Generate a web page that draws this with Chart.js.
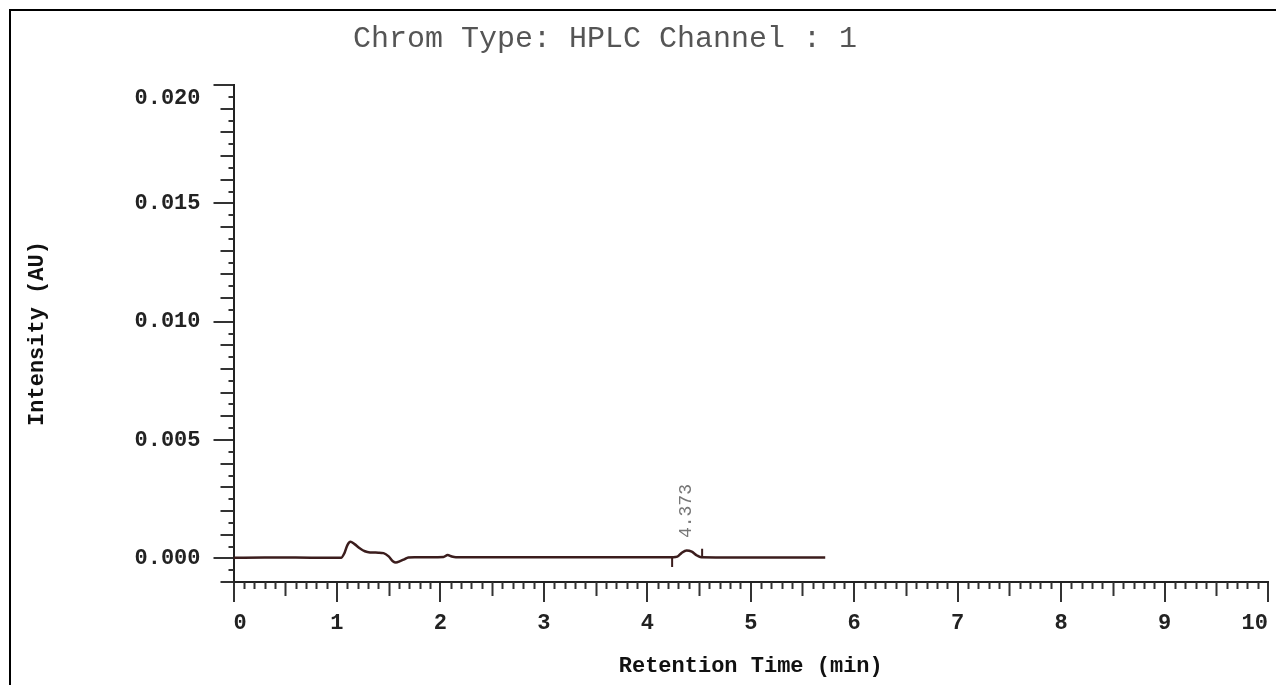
<!DOCTYPE html>
<html>
<head>
<meta charset="utf-8">
<script src="https://cdn.jsdelivr.net/npm/chart.js@4/dist/chart.umd.min.js"></script>
<style>
    html, body { margin: 0; padding: 0; background: #fff; }
    #chartBox { width: 1276px; height: 685px; }
</style>
</head>
<body>
<div id="chartBox"><canvas id="chromChart"></canvas></div>
<script>
// Chromatogram trace (retention time in min, intensity in AU)
const retentionTime = [0.00, 0.30, 0.60, 0.90, 1.04, 1.07, 1.10, 1.13, 1.17, 1.22, 1.27, 1.32, 1.40, 1.45, 1.50, 1.54, 1.57, 1.61, 1.65, 1.69, 1.75, 1.90, 2.03, 2.07, 2.11, 2.15, 2.50, 3.00, 3.50, 4.00, 4.25, 4.29, 4.33, 4.38, 4.43, 4.48, 4.52, 5.00, 5.50, 5.72];
const intensity = [0.00002, 0.00003, 0.00003, 0.00002, 0.00002, 0.00020, 0.00055, 0.00070, 0.00060, 0.00043, 0.00030, 0.00025, 0.00024, 0.00022, 0.00008, -0.00012, -0.00018, -0.00012, -0.00004, 0.00004, 0.00005, 0.00005, 0.00006, 0.00014, 0.00008, 0.00005, 0.00005, 0.00005, 0.00005, 0.00005, 0.00005, 0.00007, 0.00022, 0.00033, 0.00028, 0.00012, 0.00005, 0.00004, 0.00004, 0.00004];

// Integration markers of the labelled peak
const peakStartX = [4.24, 4.24];
const peakStartY = [0.00005, -0.00037];
const peakEndX = [4.53, 4.53];
const peakEndY = [0.00005, 0.00040];

// Peak label
const peakLabelTime = 4.373;
const peakLabelTop = 0.00035;
const peakLabelText = '4.373';

// Axes
const xTickValues = [0, 1, 2, 3, 4, 5, 6, 7, 8, 9, 10];
const yTickValues = [0, 0.005, 0.010, 0.015, 0.020];
const yTickLabels = ['0.000', '0.005', '0.010', '0.015', '0.020'];
const titleText = 'Chrom Type: HPLC Channel : 1';

const monoFont = '"Liberation Mono", "DejaVu Sans Mono", monospace';
const traceColor = '#3b1d1d';

// Build {x, y} points from two arrays
function toPoints(xs, ys) {
    return xs.map((v, i) => ({x: v, y: ys[i]}));
}

// Plugin for the frame, the title, the minor ticks and the peak label
const chromDecorations = {
    id: 'chromDecorations',
    beforeDraw(chart) {
        const ctx = chart.ctx;
        ctx.save();
        ctx.strokeStyle = '#000';
        ctx.lineWidth = 2;
        ctx.beginPath();
        ctx.moveTo(10, chart.height);
        ctx.lineTo(10, 10);
        ctx.lineTo(chart.width, 10);
        ctx.stroke();

        ctx.fillStyle = '#555';
        ctx.font = '30px ' + monoFont;
        ctx.textAlign = 'center';
        ctx.textBaseline = 'middle';
        ctx.fillText(titleText, 605, 39);
        ctx.restore();
    },
    afterDraw(chart) {
        const {ctx, chartArea} = chart;
        const x = chart.scales.x;
        const y = chart.scales.y;
        ctx.save();
        ctx.strokeStyle = '#333';
        ctx.lineWidth = 2;
        ctx.beginPath();

        // x minor ticks every 0.1 min, longer at the half minute
        for (let i = 1; i < 100; i++) {
            if (i % 10 === 0) continue;
            const px = Math.round(x.getPixelForValue(i / 10)) + 0.5;
            const len = i % 5 === 0 ? 14 : 7;
            ctx.moveTo(px, chartArea.bottom);
            ctx.lineTo(px, chartArea.bottom + len);
        }

        // y minor ticks every 0.0005 AU, longer every 0.001 AU
        for (let i = -2; i < 40; i++) {
            if (i % 10 === 0) continue;
            const py = Math.round(y.getPixelForValue(i * 0.0005));
            const len = i % 2 === 0 ? 13 : 5;
            ctx.moveTo(chartArea.left, py);
            ctx.lineTo(chartArea.left - len, py);
        }
        ctx.stroke();

        // Rotated retention time label above the peak
        ctx.translate(x.getPixelForValue(peakLabelTime), y.getPixelForValue(peakLabelTop) - 12);
        ctx.rotate(-Math.PI / 2);
        ctx.fillStyle = '#777';
        ctx.font = '18px ' + monoFont;
        ctx.textAlign = 'left';
        ctx.textBaseline = 'middle';
        ctx.fillText(peakLabelText, 0, 0);
        ctx.restore();
    }
};

const markerStyle = {
    borderColor: traceColor,
    borderWidth: 2,
    pointRadius: 0,
    tension: 0
};

new Chart(document.getElementById('chromChart'), {
    type: 'line',
    data: {
        datasets: [
            {
                data: toPoints(retentionTime, intensity),
                borderColor: traceColor,
                borderWidth: 2.5,
                pointRadius: 0,
                cubicInterpolationMode: 'monotone'
            },
            Object.assign({data: toPoints(peakStartX, peakStartY)}, markerStyle),
            Object.assign({data: toPoints(peakEndX, peakEndY)}, markerStyle)
        ]
    },
    options: {
        responsive: true,
        maintainAspectRatio: false,
        animation: false,
        layout: {
            padding: {top: 85, left: 20, right: 8, bottom: 1}
        },
        plugins: {
            legend: {display: false},
            title: {display: false},
            tooltip: {enabled: false}
        },
        scales: {
            x: {
                type: 'linear',
                min: 0,
                max: 10,
                afterBuildTicks: scale => {
                    scale.ticks = xTickValues.map(v => ({value: v}));
                },
                afterFit: scale => {
                    scale.height = 102;
                    scale.paddingLeft = 0;
                    scale.paddingRight = 0;
                },
                ticks: {
                    align: 'inner',
                    maxRotation: 0,
                    padding: 8,
                    color: '#222',
                    font: {family: monoFont, size: 22, weight: 'bold'},
                    callback: value => String(value)
                },
                grid: {
                    drawOnChartArea: false,
                    tickLength: 20,
                    color: '#333',
                    lineWidth: 2
                },
                border: {color: '#222', width: 2},
                title: {
                    display: true,
                    text: 'Retention Time (min)',
                    color: '#111',
                    font: {family: monoFont, size: 22, weight: 'bold'}
                }
            },
            y: {
                type: 'linear',
                min: -0.001,
                max: 0.020,
                afterBuildTicks: scale => {
                    scale.ticks = yTickValues.map(v => ({value: v}));
                },
                afterFit: scale => {
                    scale.width = 213.5;
                },
                ticks: {
                    padding: 13,
                    color: '#222',
                    font: {family: monoFont, size: 22, weight: 'bold'},
                    callback: (value, index) => {
                        const label = yTickLabels[index];
                        // top label sits just below its tick, as in the original plot
                        return index === yTickLabels.length - 1 ? ['', label] : label;
                    }
                },
                grid: {
                    drawOnChartArea: false,
                    tickLength: 20,
                    color: '#333',
                    lineWidth: 2
                },
                border: {color: '#222', width: 2},
                title: {
                    display: true,
                    text: 'Intensity (AU)',
                    color: '#111',
                    font: {family: monoFont, size: 22, weight: 'bold'}
                }
            }
        }
    },
    plugins: [chromDecorations]
});
</script>
</body>
</html>
